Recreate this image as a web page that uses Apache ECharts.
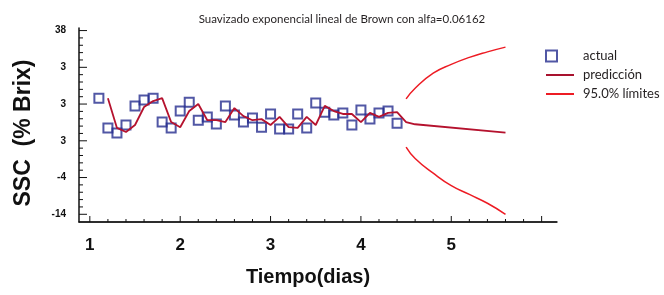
<!DOCTYPE html>
<html>
<head>
<meta charset="utf-8">
<script src="https://cdn.jsdelivr.net/npm/echarts@6/dist/echarts.min.js"></script>
<style>
  html, body { margin: 0; padding: 0; background: #fff; }
  #chart { width: 664px; height: 295px; }
</style>
</head>
<body>
<div id="chart"></div>
<script>
// datos observados (x = dias)
const dias = [1.1, 1.2, 1.3, 1.4, 1.5, 1.6, 1.7, 1.8, 1.9, 2.0, 2.1, 2.2, 2.3, 2.4, 2.5, 2.6, 2.7,
  2.8, 2.9, 3.0, 3.1, 3.2, 3.3, 3.4, 3.5, 3.6, 3.7, 3.8, 3.9, 4.0, 4.1, 4.2, 4.3, 4.4];
const actual = [17.6, 9.5, 8.1, 10.3, 15.5, 17.1, 17.6, 11.1, 9.5, 14.1, 16.5, 11.6, 12.5, 10.6, 15.5, 13.0, 11.1,
  12.2, 9.7, 13.3, 9.2, 9.2, 13.3, 9.5, 16.3, 13.8, 13.0, 13.6, 10.3, 14.4, 11.9, 13.6, 14.1, 10.8];

// prediccion (un paso adelante + pronostico)
const predDias = [1.2, 1.3, 1.4, 1.5, 1.6, 1.7, 1.8, 1.9, 2.0, 2.1, 2.2, 2.3, 2.4, 2.5, 2.6, 2.7, 2.8,
  2.9, 3.0, 3.1, 3.2, 3.3, 3.4, 3.5, 3.6, 3.7, 3.8, 3.9, 4.0, 4.1, 4.2, 4.3, 4.4, 4.5, 4.6, 5.6];
const prediccion = [17.6, 9.5, 8.4, 10.3, 15.2, 16.8, 17.6, 11.1, 9.7, 14.1, 16.0, 11.6, 11.6, 11.1, 14.9, 12.7, 11.6,
  11.9, 10.3, 12.5, 9.7, 9.5, 12.5, 10.3, 15.5, 14.1, 13.3, 13.3, 11.1, 13.6, 12.5, 13.6, 13.8, 11.1, 10.5, 8.2];

// limites 95%
const limDias = [4.5, 4.6, 4.8, 5.0, 5.2, 5.4, 5.6];
const limSup = [17.4, 20.3, 24.4, 26.8, 28.7, 30.2, 31.5];
const limInf = [4.3, 1.2, -2.8, -6.2, -8.6, -11.0, -14.0];

// etiquetas de los ejes
const yTickValues = [-14, -4, 6, 16, 26, 36];
const yTickLabels = ['-14', '-4', '3', '3', '3', '38'];
const xTickLabels = ['1', '2', '3', '4', '5'];

// marcas de los ejes (cada 0.2 dias y cada 2 unidades)
const xMarks = [];
for (let i = 0; i <= 25; i++) xMarks.push(+(1 + i * 0.2).toFixed(1));
const yMarks = [];
for (let v = -14; v <= 36; v += 2) yMarks.push(v);

const pairs = (xs, ys) => xs.map((x, i) => [x, ys[i]]);

const chart = echarts.init(document.getElementById('chart'));

const ink = '#111';
const bold = extra => Object.assign({ fontFamily: 'Liberation Sans', fontWeight: 'bold', color: ink }, extra);
const off = () => ({ show: false });

// marcas dibujadas sobre el grid de datos
const tickSeries = (data, draw) => ({
  type: 'custom',
  silent: true,
  clip: false,
  z: 1,
  data: data,
  renderItem: (params, api) => {
    const cs = params.coordSys;
    const p = api.coord([api.value(0), api.value(1)]);
    return { type: 'line', shape: draw(cs, p, api.value(0), api.value(1)), style: { stroke: ink, lineWidth: 1 } };
  }
});

// grid 0: datos; grid 1: etiquetas del eje x; grid 2: etiquetas del eje y
const option = {
  animation: false,
  title: {
    text: 'Suavizado exponencial lineal de Brown con alfa=0.06162',
    left: 337,
    textAlign: 'center',
    top: 8,
    textStyle: { fontFamily: 'Lato', fontSize: 11.5, fontWeight: 'normal', color: '#231f20' }
  },
  legend: {
    orient: 'vertical',
    left: 540,
    top: 44,
    itemWidth: 28,
    itemHeight: 11,
    itemGap: 5,
    textStyle: { fontFamily: 'Lato', fontSize: 13, color: '#231f20', lineHeight: 14, padding: [0, 0, 0, 4] },
    data: [
      { name: 'actual', icon: 'path://M0 0H11V11H0Z M28 11L28 11' },
      { name: 'predicción', icon: 'path://M0 0H28V2H0Z' },
      { name: '95.0% límites', icon: 'path://M0 0H28V2H0Z' }
    ]
  },
  grid: [
    { left: 79, right: 107, top: 28, bottom: 73 },
    { left: 89.84, right: 107, top: 28, bottom: 73 },
    { left: 79, right: 107, top: 30.57, bottom: 80.7 }
  ],
  xAxis: [{
    type: 'value', gridIndex: 0, min: 0.88, max: 6.17,
    splitLine: off(), axisTick: off(), axisLabel: off(),
    axisLine: { show: true, onZero: false, lineStyle: { color: ink, width: 1.5 } },
    name: 'Tiempo(dias)',
    nameLocation: 'middle',
    nameGap: 45,
    nameTextStyle: bold({ fontSize: 20, padding: [0, 20, 0, 0] })
  }, {
    type: 'value', gridIndex: 1, min: 1, max: 6.17, interval: 1,
    splitLine: off(), axisTick: off(), axisLine: off(),
    axisLabel: bold({
      margin: 15, fontSize: 17,
      formatter: v => xTickLabels[Math.round(v) - 1] || ''
    })
  }, {
    type: 'value', gridIndex: 2, min: 0, max: 1, show: false
  }],
  yAxis: [{
    type: 'value', gridIndex: 0, min: -16.1, max: 36.7,
    splitLine: off(), axisTick: off(), axisLabel: off(),
    axisLine: { show: true, onZero: false, lineStyle: { color: ink, width: 1.5 } },
    name: 'SSC  (% Brix)',
    nameLocation: 'middle',
    nameGap: 44,
    nameRotate: 90,
    nameTextStyle: bold({ fontSize: 23, padding: [0, 16, 0, 0] })
  }, {
    type: 'value', gridIndex: 1, min: 0, max: 1, show: false
  }, {
    type: 'value', gridIndex: 2, min: -14, max: 36, interval: 10,
    splitLine: off(), axisTick: off(), axisLine: off(),
    axisLabel: bold({
      margin: 13, fontSize: 10,
      formatter: v => yTickLabels[yTickValues.indexOf(Math.round(v))] || ''
    })
  }],
  series: [
    // linea base del eje x
    tickSeries([[1, 0]], cs => ({ x1: cs.x, y1: cs.y + cs.height, x2: cs.x + cs.width, y2: cs.y + cs.height })),
    // marcas del eje x (mas largas en los enteros)
    tickSeries(xMarks.map(v => [v, 0]), (cs, p, v) => {
      const len = Math.abs(v - Math.round(v)) < 1e-6 ? 6 : 3;
      return { x1: p[0], y1: cs.y + cs.height, x2: p[0], y2: cs.y + cs.height - len };
    }),
    // marcas del eje y (mas largas cada 10)
    tickSeries(yMarks.map(v => [1, v]), (cs, p, x, v) => {
      const len = (v + 14) % 10 === 0 ? 8 : 4;
      return { x1: cs.x, y1: p[1], x2: cs.x + len, y2: p[1] };
    }),
    {
      name: 'actual',
      type: 'scatter',
      symbol: 'rect',
      symbolSize: 9,
      itemStyle: { color: 'rgba(0,0,0,0)', borderColor: '#262d8f', borderWidth: 2 },
      data: pairs(dias, actual),
      z: 2
    }, {
      name: 'predicción',
      type: 'line',
      showSymbol: false,
      symbol: 'none',
      color: '#a8122e',
      lineStyle: { color: '#b5122e', width: 1.8 },
      data: pairs(predDias, prediccion),
      z: 3
    }, {
      name: '95.0% límites',
      type: 'line',
      showSymbol: false,
      symbol: 'none',
      smooth: true,
      color: '#ed1c24',
      lineStyle: { color: '#ed1c24', width: 1.5 },
      data: pairs(limDias, limSup),
      z: 3
    }, {
      name: '95.0% límites',
      type: 'line',
      showSymbol: false,
      symbol: 'none',
      smooth: true,
      color: '#ed1c24',
      lineStyle: { color: '#ed1c24', width: 1.5 },
      data: pairs(limDias, limInf),
      z: 3
    }
  ]
};

chart.setOption(option);
</script>
</body>
</html>
